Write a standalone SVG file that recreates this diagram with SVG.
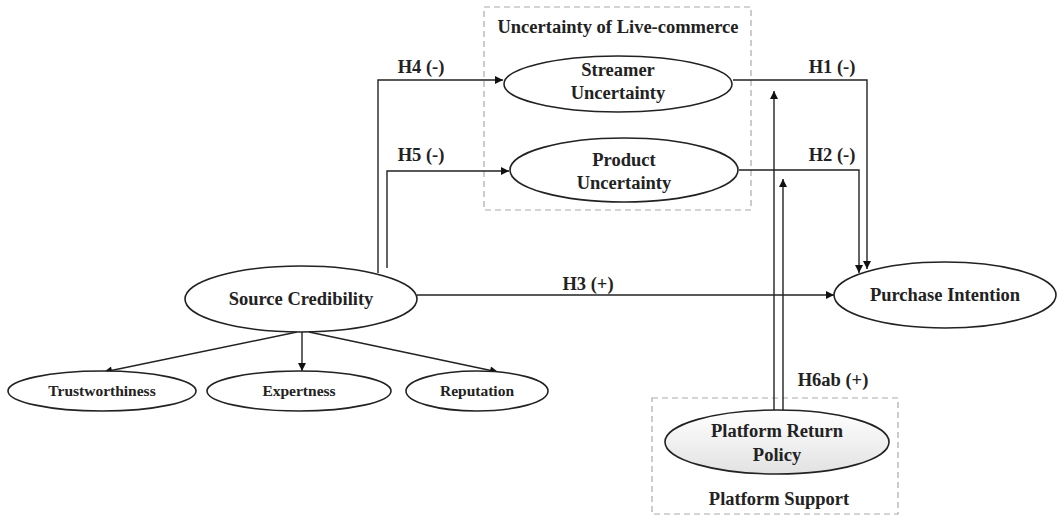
<svg xmlns="http://www.w3.org/2000/svg" width="1058" height="517" viewBox="0 0 1058 517">
<defs>
<marker id="ah" viewBox="0 0 10 10" refX="10" refY="5" markerWidth="10" markerHeight="8" markerUnits="userSpaceOnUse" orient="auto"><path d="M0,0 L10,5 L0,10 z" fill="#111"/></marker>
<linearGradient id="pg" x1="0" y1="0" x2="0" y2="1"><stop offset="0" stop-color="#ffffff"/><stop offset="1" stop-color="#e2e2e2"/></linearGradient>
</defs>
<style>
text{font-family:"Liberation Serif","Times New Roman",serif;font-weight:bold;fill:#222;text-anchor:middle}
.n{font-size:18.5px}
.s{font-size:15.5px}
.l{font-size:18.5px}
ellipse{fill:#fff;stroke:#222;stroke-width:1.6}
.c{fill:none;stroke:#222;stroke-width:1.4}
.box{fill:none;stroke:#aaa;stroke-width:1.2;stroke-dasharray:6,4}
</style>
<rect width="1058" height="517" fill="#fff"/>
<g id="group-uncertainty">
<rect class="box" x="484" y="7" width="267" height="203"/>
<text class="n" x="618" y="33">Uncertainty of Live-commerce</text>
</g>
<g id="group-platform">
<rect class="box" x="652" y="398" width="246" height="116"/>
<text class="n" x="779" y="505">Platform Support</text>
</g>
<g id="connectors">
<polyline class="c" points="378,273 378,80 503,80" marker-end="url(#ah)"/>
<polyline class="c" points="387,268 387,171 509,171" marker-end="url(#ah)"/>
<polyline class="c" points="733,80 867,80 867,269" marker-end="url(#ah)"/>
<polyline class="c" points="739,170 859,170 859,273" marker-end="url(#ah)"/>
<line class="c" x1="417" y1="295" x2="834" y2="295" marker-end="url(#ah)"/>
<line class="c" x1="774" y1="411" x2="774" y2="91" marker-end="url(#ah)"/>
<line class="c" x1="783" y1="410" x2="783" y2="179" marker-end="url(#ah)"/>
<line class="c" x1="297" y1="332" x2="104" y2="372" marker-end="url(#ah)"/>
<line class="c" x1="302" y1="332" x2="302" y2="371" marker-end="url(#ah)"/>
<line class="c" x1="309" y1="332" x2="498" y2="372" marker-end="url(#ah)"/>
<text class="l" x="421" y="73">H4 (-)</text>
<text class="l" x="421" y="161">H5 (-)</text>
<text class="l" x="832" y="73">H1 (-)</text>
<text class="l" x="832" y="161">H2 (-)</text>
<text class="l" x="588" y="290">H3 (+)</text>
<text class="l" x="833" y="386">H6ab (+)</text>
</g>
<g id="node-streamer">
<ellipse cx="618" cy="84" rx="114" ry="28"/>
<text class="n" x="618" y="76">Streamer</text>
<text class="n" x="618" y="99">Uncertainty</text>
</g>
<g id="node-product">
<ellipse cx="624" cy="170" rx="114" ry="32"/>
<text class="n" x="624" y="166">Product</text>
<text class="n" x="624" y="189">Uncertainty</text>
</g>
<g id="node-source">
<ellipse cx="301" cy="299" rx="116" ry="33"/>
<text class="n" x="301" y="305">Source Credibility</text>
</g>
<g id="node-purchase">
<ellipse cx="945" cy="295" rx="111" ry="33"/>
<text class="n" x="945" y="301">Purchase Intention</text>
</g>
<g id="node-trust">
<ellipse cx="102" cy="391" rx="94" ry="20"/>
<text class="s" x="102" y="396">Trustworthiness</text>
</g>
<g id="node-expert">
<ellipse cx="299" cy="391" rx="92" ry="20"/>
<text class="s" x="299" y="396">Expertness</text>
</g>
<g id="node-reputation">
<ellipse cx="477" cy="391" rx="71" ry="20"/>
<text class="s" x="477" y="396">Reputation</text>
</g>
<g id="node-platform">
<ellipse cx="777" cy="442" rx="112" ry="32" style="fill:url(#pg)"/>
<text class="n" x="777" y="437">Platform Return</text>
<text class="n" x="777" y="461">Policy</text>
</g>
</svg>
